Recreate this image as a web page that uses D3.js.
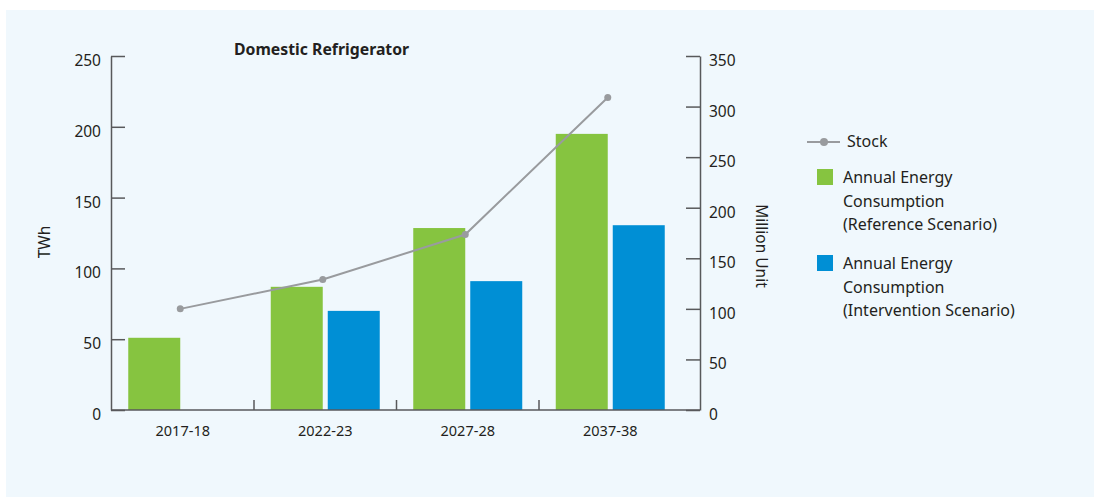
<!DOCTYPE html>
<html>
<head>
<meta charset="utf-8">
<script src="https://cdn.jsdelivr.net/npm/d3@7"></script>
<style>
  body { margin: 0; background: #fff; }
  text { font-family: "Noto Sans", sans-serif; fill: #231f20; }
  .tick text { font-size: 15.5px; }
  .cat .tick text { font-size: 14.5px; }
</style>
</head>
<body>
<svg width="1094" height="501"></svg>
<script>
const svg = d3.select("svg");

// data
const categories = ["2017-18", "2022-23", "2027-28", "2037-38"];
const referenceTWh = [51, 87, 128.5, 195];
const interventionTWh = [null, 70, 91, 130.5];
const stockMillion = [100, 129, 173.5, 309];
const leftTicks = [0, 50, 100, 150, 200, 250];
const rightTicks = [0, 50, 100, 150, 200, 250, 300, 350];

const green = "#86c440";
const blue = "#008fd5";
const grey = "#999b9e";
const axisColor = "#58595b";

// panel background
svg.append("rect")
    .attr("x", 6).attr("y", 10)
    .attr("width", 1088).attr("height", 487)
    .attr("fill", "#f0f8fd");

const plotLeft = 111, plotRight = 700, plotTop = 56, plotBottom = 410;

const x = d3.scaleBand()
    .domain(categories)
    .range([111.5, 681.5]);

const yLeft = d3.scaleLinear().domain([0, 250]).range([plotBottom, plotTop]);
const yRight = d3.scaleLinear().domain([0, 350]).range([plotBottom, plotTop]);

const barW = 52, gap = 5;

// bars
const g = svg.append("g");
g.selectAll(".ref").data(categories)
    .enter().append("rect")
        .attr("x", d => x(d) + x.bandwidth() / 2 - gap / 2 - barW)
        .attr("y", (d, i) => yLeft(referenceTWh[i]))
        .attr("width", barW)
        .attr("height", (d, i) => plotBottom - yLeft(referenceTWh[i]))
        .attr("fill", green);

g.selectAll(".int").data(categories.filter((d, i) => interventionTWh[i] != null))
    .enter().append("rect")
        .attr("x", d => x(d) + x.bandwidth() / 2 + gap / 2)
        .attr("y", d => yLeft(interventionTWh[categories.indexOf(d)]))
        .attr("width", barW)
        .attr("height", d => plotBottom - yLeft(interventionTWh[categories.indexOf(d)]))
        .attr("fill", blue);

// axes
const leftAxis = svg.append("g")
    .attr("transform", `translate(${plotLeft},0)`)
    .call(d3.axisLeft(yLeft).tickValues(leftTicks).tickSizeInner(-14).tickSizeOuter(0).tickPadding(10));

const rightAxis = svg.append("g")
    .attr("transform", `translate(${plotRight},0)`)
    .call(d3.axisRight(yRight).tickValues(rightTicks).tickSizeInner(-14).tickSizeOuter(0).tickPadding(9));

[leftAxis, rightAxis].forEach(a => {
    a.selectAll("path, line").attr("stroke", axisColor).attr("stroke-width", 1.5);
    a.selectAll("text").attr("font-family", null).attr("y", 4.5);
});

// baseline + category separators
svg.append("line")
    .attr("x1", plotLeft).attr("x2", plotRight)
    .attr("y1", plotBottom).attr("y2", plotBottom)
    .attr("stroke", axisColor).attr("stroke-width", 1.5);

svg.selectAll(".sep").data(categories.slice(1))
    .enter().append("line")
        .attr("x1", d => x(d)).attr("x2", d => x(d))
        .attr("y1", plotBottom).attr("y2", plotBottom - 10)
        .attr("stroke", axisColor).attr("stroke-width", 1.5);

const catAxis = svg.append("g")
    .attr("class", "cat")
    .attr("transform", `translate(0,${plotBottom})`)
    .call(d3.axisBottom(x).tickSize(0).tickPadding(16));
catAxis.select(".domain").remove();
catAxis.selectAll("text").attr("font-family", null);

// stock line
const stockX = d => x(d) + x.bandwidth() / 2 - gap / 2;
const line = d3.line()
    .x((d, i) => stockX(categories[i]))
    .y(d => yRight(d));

svg.append("path")
    .datum(stockMillion)
    .attr("d", line)
    .attr("fill", "none")
    .attr("stroke", grey)
    .attr("stroke-width", 2);

svg.selectAll(".dot").data(stockMillion)
    .enter().append("circle")
        .attr("cx", (d, i) => stockX(categories[i]))
        .attr("cy", d => yRight(d))
        .attr("r", 3.5)
        .attr("fill", grey);

// titles
svg.append("text")
    .attr("x", 234).attr("y", 55)
    .attr("font-weight", "bold")
    .attr("font-size", 15.8)
    .text("Domestic Refrigerator");

svg.append("text")
    .attr("transform", "translate(50,242) rotate(-90)")
    .attr("text-anchor", "middle")
    .attr("font-size", 15.5)
    .text("TWh");

svg.append("text")
    .attr("transform", "translate(756,246) rotate(90)")
    .attr("text-anchor", "middle")
    .attr("font-size", 15.5)
    .text("Million Unit");

// legend
const lg = svg.append("g");
lg.append("line")
    .attr("x1", 807).attr("x2", 840)
    .attr("y1", 142).attr("y2", 142)
    .attr("stroke", grey).attr("stroke-width", 2);
lg.append("circle")
    .attr("cx", 824).attr("cy", 142).attr("r", 4)
    .attr("fill", grey);
lg.append("text")
    .attr("x", 847).attr("y", 147)
    .attr("font-size", 16)
    .text("Stock");

const legendItems = [
    { color: green, y: 169, lines: ["Annual Energy", "Consumption", "(Reference Scenario)"] },
    { color: blue, y: 255, lines: ["Annual Energy", "Consumption", "(Intervention Scenario)"] }
];

legendItems.forEach(item => {
    lg.append("rect")
        .attr("x", 817).attr("y", item.y)
        .attr("width", 16).attr("height", 16)
        .attr("fill", item.color);
    const t = lg.append("text")
        .attr("x", 843).attr("y", item.y + 14)
        .attr("font-size", 16);
    item.lines.forEach((l, i) => {
        t.append("tspan")
            .attr("x", 843)
            .attr("dy", i === 0 ? 0 : 23.5)
            .text(l);
    });
});
</script>
</body>
</html>
